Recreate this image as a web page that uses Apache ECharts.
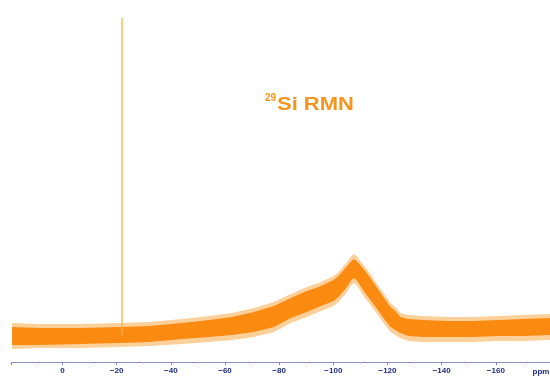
<!DOCTYPE html>
<html>
<head>
<meta charset="utf-8">
<script src="https://cdn.jsdelivr.net/npm/echarts@6/dist/echarts.min.js"></script>
<style>html,body{margin:0;padding:0;background:#fff}#c{width:550px;height:376px}</style>
</head>
<body>
<div id="c"></div>
<script>
// chemical shift positions (ppm) where the spectrum envelope was read
const ppm = [18.6, 8.3, -6.4, -21.1, -32.1, -44.2, -54.1, -62.6, -70.7, -78.1, -84.3, -90.2, -94.6, -100.1, -101.9, -104.5, -106.4, -107.5, -108.6, -111.2, -113.7, -115.9, -118.5, -121.1, -122.9, -124.7, -127.7, -133.2, -142.4, -151.6, -160.8, -170.0, -180.0];
// dense noise band (arbitrary intensity units)
const coreLow  = [17, 17, 18, 19, 20, 23, 25, 27, 30, 35, 44, 50, 55, 61, 65, 73, 81, 84, 82, 71, 62, 54, 44, 35, 32, 29, 26, 25, 25, 25, 26, 26, 27];
const coreHigh = [35, 34, 34, 35, 36, 39, 42, 45, 50, 56, 64, 71, 75, 82, 86, 94, 100, 103, 101, 93, 84, 75, 65, 55, 51, 45, 43, 42, 41, 41, 42, 43, 44];
// outer extent of the noise spikes
const spikeLow  = [13, 14, 14, 15, 16, 18, 20, 22, 25, 30, 39, 45, 50, 56, 60, 68, 76, 79, 77, 66, 57, 49, 39, 30, 27, 24, 21, 20, 20, 20, 21, 21, 22];
const spikeHigh = [39, 38, 38, 39, 40, 43, 46, 49, 54, 60, 68, 75, 79, 86, 90, 98, 105, 108, 106, 97, 88, 79, 69, 59, 55, 49, 47, 46, 45, 45, 46, 47, 48];
// sharp narrow resonance
const sharpPpm = [-22.0, -22.0];
const sharpInt = [27, 344];
// axis tick labels
const tickValues = [0, -20, -40, -60, -80, -100, -120, -140, -160];
const tickLabels = ['0', '\u221220', '\u221240', '\u221260', '\u221280', '\u2212100', '\u2212120', '\u2212140', '\u2212160'];
const unitLabel = 'ppm';
const titleSup = '29';
const titleMain = 'Si RMN';

const pair = (xs, ys) => xs.map((x, i) => [x, ys[i]]);

function bandSeries(low, high, color, opacity, z) {
  return {
    type: 'custom', z: z, silent: true,
    data: [0],
    renderItem: (params, api) => {
      const top = ppm.map((x, i) => api.coord([x, high[i]]));
      const bot = ppm.map((x, i) => api.coord([x, low[i]])).reverse();
      return {type: 'polygon', shape: {points: top.concat(bot)}, style: {fill: color, opacity: opacity}};
    }
  };
}

const chart = echarts.init(document.getElementById('c'), null, {renderer: 'canvas'});
chart.setOption({
  animation: false,
  grid: {left: 11.7, right: -2.3, top: 0, bottom: 14},
  xAxis: {
    type: 'value', inverse: true, min: -180, max: 18.75, interval: 20,
    axisLine: {show: true, onZero: false, lineStyle: {color: '#8b8fc0', width: 1}},
    axisTick: {show: true, length: 3, lineStyle: {color: '#7d82b8'}},
    minorTick: {show: true, splitNumber: 2, length: 2, lineStyle: {color: '#c2c4dd'}},
    splitLine: {show: false},
    axisLabel: {
      margin: 5, fontSize: 8, fontWeight: 'bold', color: '#1f2d80', fontFamily: 'Liberation Sans, Arial, sans-serif',
      showMinLabel: false, showMaxLabel: false,
      formatter: v => { const i = tickValues.indexOf(Math.round(v)); return (i >= 0 && Math.abs(v - Math.round(v)) < 1e-6) ? tickLabels[i] : ''; }
    }
  },
  yAxis: {type: 'value', show: false, min: 0, max: 362},
  series: [
    bandSeries(spikeLow, spikeHigh, '#f9a949', 0.55, 1),
    bandSeries(coreLow, coreHigh, '#fb8a10', 1, 2),
    {type: 'line', data: pair(sharpPpm, sharpInt), showSymbol: false, lineStyle: {color: '#f3b24e', width: 1.3}, z: 3}
  ],
  graphic: [
    {type: 'text', x: 265, y: 93, style: {text: titleSup, fill: '#f7941d', font: 'bold 10px "Liberation Sans", Arial, sans-serif'}},
    {type: 'text', x: 277, y: 96, scaleX: 1.22, style: {text: titleMain, fill: '#f7941d', font: 'bold 18px "Liberation Sans", Arial, sans-serif'}},
    {type: 'text', x: 541, y: 372, style: {text: unitLabel, fill: '#1f2d80', font: 'bold 8px "Liberation Sans", Arial, sans-serif', textAlign: 'center', textVerticalAlign: 'middle'}}
  ]
});
</script>
</body>
</html>
